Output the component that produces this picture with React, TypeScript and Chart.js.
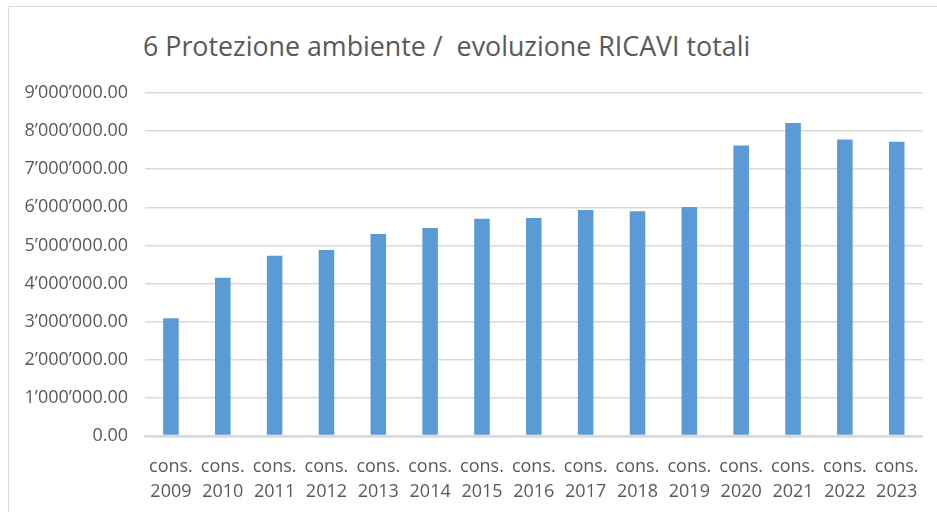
import React, { useEffect, useRef } from "react";
import { Chart, registerables } from "chart.js";

Chart.register(...registerables);

const TITLE = "6 Protezione ambiente /  evoluzione RICAVI totali";
const categoryPrefix = "cons.";
const years = ["2009", "2010", "2011", "2012", "2013", "2014", "2015", "2016", "2017", "2018", "2019", "2020", "2021", "2022", "2023"];
const ricavi = [3090000, 4150000, 4730000, 4880000, 5300000, 5460000, 5700000, 5720000, 5930000, 5900000, 6010000, 7620000, 8210000, 7780000, 7720000];
const yMin = 0;
const yMax = 9000000;
const yStep = 1000000;

const FONT = "'Open Sans', sans-serif";
const TEXT = "#595959";
const GRID = "#d9d9d9";
const BAR = "#5b9bd5";

function fmt(v: number): string {
  const s = Number(v).toFixed(2);
  const [i, d] = s.split(".");
  return i.replace(/\B(?=(\d{3})+(?!\d))/g, "\u2019") + "." + d;
}

export default function App() {
  const ref = useRef<HTMLCanvasElement | null>(null);

  useEffect(() => {
    document.body.style.margin = "0";
    const ctx = ref.current;
    if (!ctx) return;
    const chart = new Chart(ctx, {
      type: "bar",
      data: {
        labels: years.map((y) => [categoryPrefix, y]),
        datasets: [
          {
            data: ricavi,
            backgroundColor: BAR,
            borderWidth: 0,
            barPercentage: 1,
            categoryPercentage: 0.3,
          },
        ],
      },
      options: {
        responsive: false,
        animation: false,
        devicePixelRatio: 1,
        layout: { padding: { top: 93, right: 12, bottom: 0, left: 0 } },
        plugins: {
          legend: { display: false },
          title: { display: false },
          tooltip: { enabled: false },
        },
        scales: {
          y: {
            min: yMin,
            max: yMax,
            afterFit: (scale: any) => {
              scale.width = 145;
            },
            ticks: {
              stepSize: yStep,
              callback: (v: any) => fmt(v),
              font: { family: FONT, size: 18 },
              color: TEXT,
              padding: 17,
            },
            grid: {
              color: GRID,
              lineWidth: (c: any) => (c.tick && c.tick.value === 0 ? 2.5 : 1.5),
              drawTicks: false,
            },
            border: { display: false },
          },
          x: {
            afterFit: (scale: any) => {
              scale.height = 76;
            },
            ticks: {
              font: { family: FONT, size: 18, lineHeight: 1.4 },
              color: TEXT,
              padding: 18,
              maxRotation: 0,
              autoSkip: false,
            },
            grid: { display: false, drawTicks: false },
            border: { display: true, color: GRID, width: 2.5 },
          },
        },
      },
    });
    return () => chart.destroy();
  }, []);

  return (
    <div style={{ position: "fixed", left: 0, top: 0, width: 937, height: 512, background: "#fff", overflow: "hidden" }}>
      <div
        style={{
          position: "absolute",
          left: 8,
          top: 6,
          width: 960,
          height: 540,
          border: "1px solid #d9d9d9",
        }}
      />
      <div
        style={{
          position: "absolute",
          left: 143,
          top: 28,
          fontFamily: FONT,
          fontSize: 26.8,
          color: TEXT,
          whiteSpace: "pre",
          lineHeight: "36px",
        }}
      >
        {TITLE}
      </div>
      <canvas ref={ref} width={937} height={512} style={{ position: "absolute", left: 0, top: 0, width: 937, height: 512 }} />
    </div>
  );
}
